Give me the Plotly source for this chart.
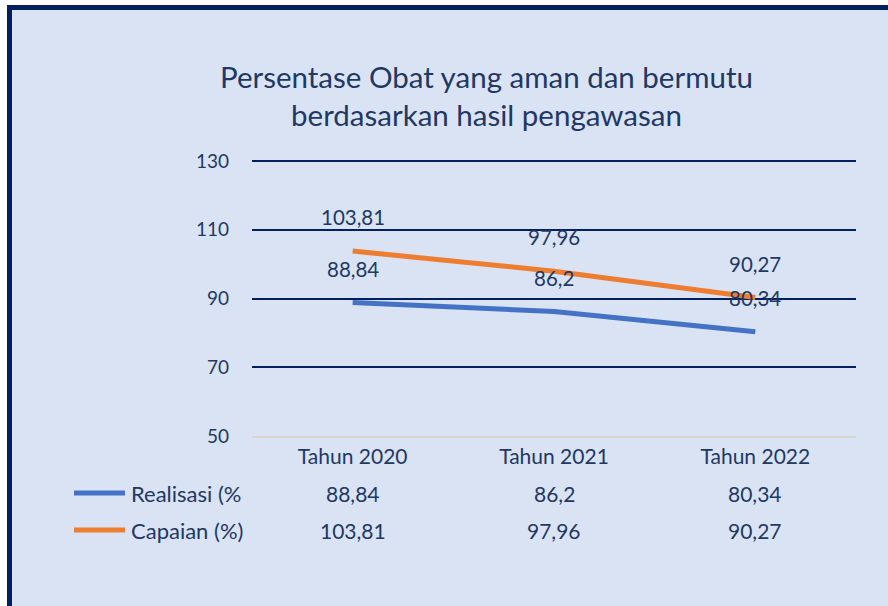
import plotly.graph_objects as go

categories = ["Tahun 2020", "Tahun 2021", "Tahun 2022"]
realisasi = [88.84, 86.2, 80.34]
capaian = [103.81, 97.96, 90.27]
series_names = ["Realisasi (%", "Capaian (%)"]
y_ticks = [50, 70, 90, 110, 130]
title_lines = ["Persentase Obat yang aman dan bermutu", "berdasarkan hasil pengawasan"]

W, H = 888, 606
L, R, T, B = 252, 32, 159, 170
NAVY = "#002060"
TXT = "#1f3864"
BG = "#dae3f3"
BLUE = "#4472c4"
ORANGE = "#ed7d31"
FONT = "Lato, Carlito, Calibri, sans-serif"

pw = W - L - R
ph = H - T - B


def px_x(x):
    return (x - L) / pw


def px_y(y):
    return (H - B - y) / ph


def fmt(v):
    return f"{v:g}".replace(".", ",")


fig = go.Figure()
series = [(series_names[0], realisasi, BLUE), (series_names[1], capaian, ORANGE)]
for name, vals, col in series:
    fig.add_trace(go.Scatter(x=categories, y=vals, mode="lines", name=name,
                             line=dict(color=col, width=5), showlegend=False,
                             hoverinfo="skip"))

annotations = []
# data labels above points
for name, vals, col in series:
    for c, v in zip(categories, vals):
        annotations.append(dict(x=c, y=v, xref="x", yref="y", text=fmt(v),
                                showarrow=False, yshift=34,
                                font=dict(size=20.5, color=TXT, family=FONT)))

# data table
row_y = [493, 530]
shapes = []
for (name, vals, col), ry in zip(series, row_y):
    annotations.append(dict(x=px_x(129), y=px_y(ry), xref="paper", yref="paper",
                            xanchor="left", yanchor="middle", text=name, showarrow=False,
                            font=dict(size=22, color=TXT, family=FONT)))
    for c, v in zip(categories, vals):
        annotations.append(dict(x=c, y=px_y(ry), xref="x", yref="paper",
                                xanchor="center", yanchor="middle", text=fmt(v),
                                showarrow=False, font=dict(size=21, color=TXT, family=FONT)))
    shapes.append(dict(type="line", xref="paper", yref="paper",
                       x0=px_x(74), x1=px_x(125), y0=px_y(ry), y1=px_y(ry),
                       line=dict(color=col, width=5), layer="above"))

# title
annotations.append(dict(x=px_x(486), y=px_y(95), xref="paper", yref="paper",
                        xanchor="center", yanchor="middle",
                        text="<br>".join(title_lines), showarrow=False,
                        font=dict(size=29.5, color=TXT, family=FONT)))

# background panel with navy border
shapes.insert(0, dict(type="rect", xref="paper", yref="paper",
                      x0=px_x(9.5), x1=px_x(920), y0=px_y(7.5), y1=px_y(640),
                      fillcolor=BG, line=dict(color=NAVY, width=5), layer="below"))

fig.update_layout(
    width=W, height=H,
    margin=dict(l=L, r=R, t=T, b=B),
    paper_bgcolor="white",
    plot_bgcolor="rgba(0,0,0,0)",
    showlegend=False,
    annotations=annotations,
    shapes=shapes,
    font=dict(family=FONT, color=TXT),
    xaxis=dict(type="category", range=[-0.5, 2.5], showgrid=False, zeroline=False,
               showline=True, linecolor="#d9d5cc", linewidth=2,
               tickfont=dict(size=21, color=TXT, family=FONT),
               ticks="", ticklabelstandoff=1),
    yaxis=dict(range=[50, 130.6], tickvals=y_ticks, showgrid=True,
               gridcolor=NAVY, gridwidth=2, zeroline=False, showline=False,
               tickfont=dict(size=19, color=TXT, family=FONT),
               ticks="", ticklabelstandoff=22),
)

fig.write_html("out.html",
               config={"displayModeBar": False},
               post_script="document.body.style.margin='0';document.body.style.padding='0';")
